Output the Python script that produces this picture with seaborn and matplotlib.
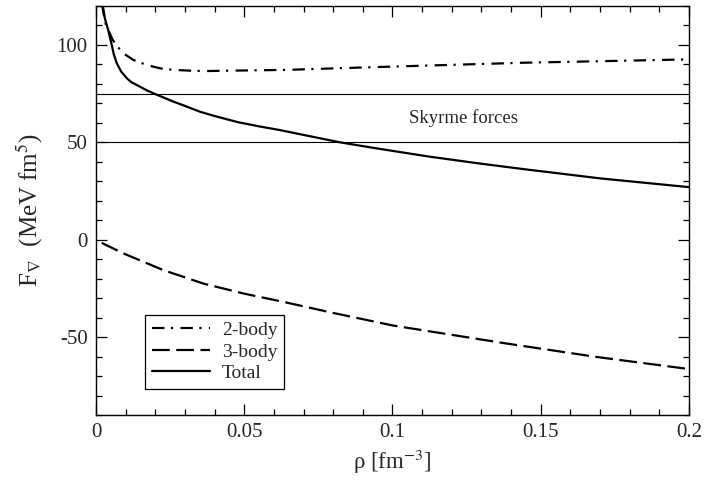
import matplotlib
matplotlib.use("Agg")
import matplotlib.pyplot as plt
import seaborn as sns
import pandas as pd
from matplotlib.ticker import MultipleLocator, FuncFormatter

# Density-dependent gradient coupling F_nabla(rho)
rho_2body = [0.0020, 0.0028, 0.0036, 0.0044, 0.0055, 0.0065, 0.0080, 0.0092,
             0.0126, 0.0171, 0.0216, 0.0261, 0.0317, 0.0373, 0.0452, 0.0643,
             0.085, 0.107, 0.145, 0.175, 0.200]
f_2body = [121.0, 114.0, 108.6, 106.8, 103.0, 100.5, 97.8, 95.7,
           92.3, 89.7, 88.0, 87.2, 86.8, 86.6, 86.8, 87.2,
           88.2, 89.2, 90.9, 91.8, 92.6]

rho_3body = [0.0019, 0.0092, 0.0227, 0.0362, 0.0497, 0.0632, 0.080, 0.100,
             0.1385, 0.1689, 0.200]
f_3body = [-1.6, -7.0, -15.6, -22.5, -27.6, -31.9, -37.6, -44.0,
           -53.3, -60.2, -66.4]

rho_total = [0.00225, 0.0030, 0.0041, 0.0053, 0.0060, 0.0070, 0.0085, 0.0104,
             0.0120, 0.0148, 0.0170, 0.0193, 0.0220, 0.0261, 0.0300, 0.0351,
             0.0400, 0.0480, 0.0550, 0.0620, 0.0700, 0.0823, 0.0950, 0.1127,
             0.1300, 0.1450, 0.1700, 0.2000]
f_total = [120.6, 113.5, 107.7, 100.0, 95.2, 90.6, 86.3, 82.9,
           80.8, 78.6, 76.8, 75.2, 73.5, 70.9, 68.7, 65.7,
           63.5, 60.3, 58.2, 56.3, 53.8, 50.0, 46.8, 42.6,
           39.0, 36.1, 31.5, 27.0]

series_names = ["2-body", "3-body", "Total"]
skyrme_band = [50.0, 75.0]
skyrme_label = "Skyrme forces"

df = pd.concat([
    pd.DataFrame({"rho": rho_2body, "F": f_2body, "term": series_names[0]}),
    pd.DataFrame({"rho": rho_3body, "F": f_3body, "term": series_names[1]}),
    pd.DataFrame({"rho": rho_total, "F": f_total, "term": series_names[2]}),
], ignore_index=True)

sns.set_style("ticks")
plt.rcParams["font.family"] = ["Liberation Serif", "DejaVu Serif"]
plt.rcParams["mathtext.fontset"] = "stix"

fig = plt.figure(figsize=(7.07, 4.87), dpi=100)
ax = fig.add_axes([0.1358, 0.1478, 0.8387, 0.8399])

dash_styles = {
    "2-body": (5.6, 2.9, 1.0, 3.3),
    "3-body": (8.0, 2.9),
    "Total": "",
}
sns.lineplot(data=df, x="rho", y="F", style="term", dashes=dash_styles,
             color="black", linewidth=1.6, ax=ax, sort=False,
             estimator=None, legend=True)

for level in skyrme_band:
    ax.axhline(level, color="black", linewidth=0.8, zorder=1)
ax.text(0.1055, 62.5, skyrme_label, fontsize=13.5, ha="left", va="center")

ax.set_xlim(0, 0.2)
ax.set_ylim(-90, 120)
ax.xaxis.set_major_locator(MultipleLocator(0.05))
ax.xaxis.set_minor_locator(MultipleLocator(0.01))
ax.yaxis.set_major_locator(MultipleLocator(50))
ax.yaxis.set_minor_locator(MultipleLocator(10))
ax.xaxis.set_major_formatter(FuncFormatter(
    lambda v, p: "0" if abs(v) < 1e-9 else f"{v:g}"))
ax.yaxis.set_major_formatter(FuncFormatter(lambda v, p: f"{v:g}"))

ax.tick_params(which="both", direction="in", top=True, right=True,
               labelsize=15, color="black")
ax.tick_params(which="major", length=8, width=0.9, pad=6)
ax.tick_params(which="minor", length=4, width=0.9)
for sp in ax.spines.values():
    sp.set_linewidth(1.0)
    sp.set_color("black")

ax.set_xlabel(r"ρ [fm$^{-3}$]", fontsize=16.5, labelpad=4)
ax.set_ylabel(r"F$_\nabla$  (MeV fm$^5$)", fontsize=18, labelpad=8)

leg = ax.legend(loc="lower left", bbox_to_anchor=(0.083, 0.064),
                borderaxespad=0, fontsize=14, frameon=True, fancybox=False,
                edgecolor="black", framealpha=1, handlelength=3.0,
                labelspacing=0.2, borderpad=0.35, handletextpad=0.6)
leg.get_frame().set_linewidth(0.9)
leg.set_title(None)

fig.savefig("out.png", dpi=100)
